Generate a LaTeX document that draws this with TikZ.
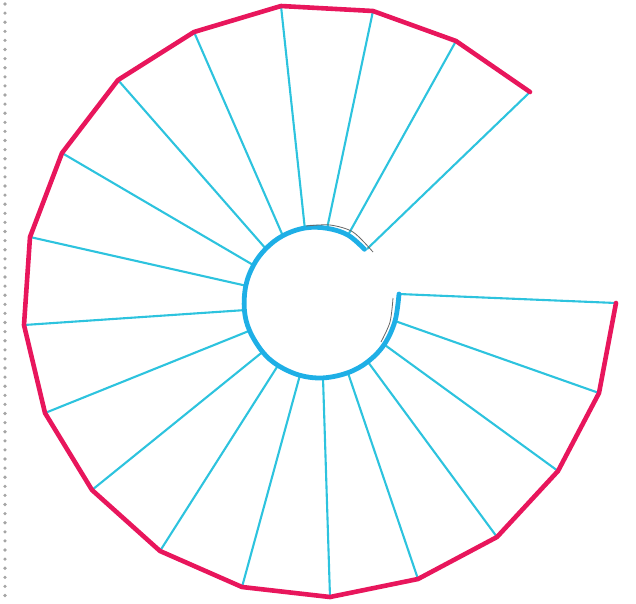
\documentclass[tikz,border=0pt]{standalone}
\usepackage{tikz}
\definecolor{rim}{RGB}{232,22,92}
\definecolor{spoke}{RGB}{45,195,222}
\definecolor{hub}{RGB}{30,175,230}
\definecolor{dotgray}{RGB}{165,165,165}
\begin{document}
\begin{tikzpicture}[x=1pt,y=-1pt,
  rimline/.style={draw=rim,line width=4.6pt,line join=round,line cap=round},
  spokeline/.style={draw=spoke,line width=2.1pt},
  hubline/.style={draw=hub,line width=4.8pt,line cap=round,line join=round},
  sketchline/.style={draw=black!60,line width=0.8pt},
  dotline/.style={draw=dotgray,line width=3.6pt,line cap=round,dash pattern=on 0pt off 9.1pt}]
\useasboundingbox (0,0) rectangle (636,603);
% outer vertices
\coordinate (o0) at (616,303);
\coordinate (o1) at (599,393);
\coordinate (o2) at (558,471);
\coordinate (o3) at (497,537);
\coordinate (o4) at (418,579);
\coordinate (o5) at (330,597);
\coordinate (o6) at (242,587);
\coordinate (o7) at (160,551);
\coordinate (o8) at (92,490);
\coordinate (o9) at (45,413);
\coordinate (o10) at (24,325);
\coordinate (o11) at (30,237);
\coordinate (o12) at (62,153);
\coordinate (o13) at (118,80);
\coordinate (o14) at (194,32);
\coordinate (o15) at (281,6);
\coordinate (o16) at (373,11);
\coordinate (o17) at (456,41);
\coordinate (o18) at (530,92);
% inner points
\coordinate (i0) at (399,294);
\coordinate (i1) at (395,321);
\coordinate (i2) at (384.2,344.5);
\coordinate (i3) at (367.8,361.7);
\coordinate (i4) at (347.9,372.7);
\coordinate (i5) at (323.0,377.9);
\coordinate (i6) at (299.9,375.3);
\coordinate (i7) at (278.0,365.4);
\coordinate (i8) at (262.6,351.9);
\coordinate (i9) at (249.6,330.7);
\coordinate (i10) at (244.4,310.1);
\coordinate (i11) at (245.8,285.7);
\coordinate (i12) at (253.5,265.2);
\coordinate (i13) at (265.8,248.7);
\coordinate (i14) at (282.8,235.7);
\coordinate (i15) at (304.8,228.0);
\coordinate (i16) at (327.1,228.3);
\coordinate (i17) at (348.0,235.1);
\coordinate (i18) at (364.5,249.3);
\coordinate (s18) at (367,249);
% dotted border
\coordinate (d1) at (5,4);
\coordinate (d2) at (5,600);
\draw[dotline] (d1) -- (d2);
% spokes
\foreach \k in {0,...,17}{\draw[spokeline] (i\k) -- (o\k);}
\draw[spokeline] (s18) -- (o18);
% hub curve
\draw[hubline] plot[smooth,tension=0.6] coordinates {(i0) (i1) (i2) (i3) (i4) (i5) (i6) (i7) (i8) (i9) (i10) (i11) (i12) (i13) (i14) (i15) (i16) (i17) (i18)};
% sketch lines
\coordinate (g1) at (306,226);
\coordinate (g2) at (330,225);
\coordinate (g3) at (353,232);
\coordinate (g4) at (373,252);
\draw[sketchline] plot[smooth] coordinates {(g1) (g2) (g3) (g4)};
\coordinate (h1) at (393,298);
\coordinate (h2) at (390,322);
\coordinate (h3) at (381,342);
\draw[sketchline] plot[smooth] coordinates {(h1) (h2) (h3)};
% rim
\draw[rimline] (o18) -- (o17) -- (o16) -- (o15) -- (o14) -- (o13) -- (o12) -- (o11) -- (o10) -- (o9) -- (o8) -- (o7) -- (o6) -- (o5) -- (o4) -- (o3) -- (o2) -- (o1) -- (o0);
\end{tikzpicture}
\end{document}
